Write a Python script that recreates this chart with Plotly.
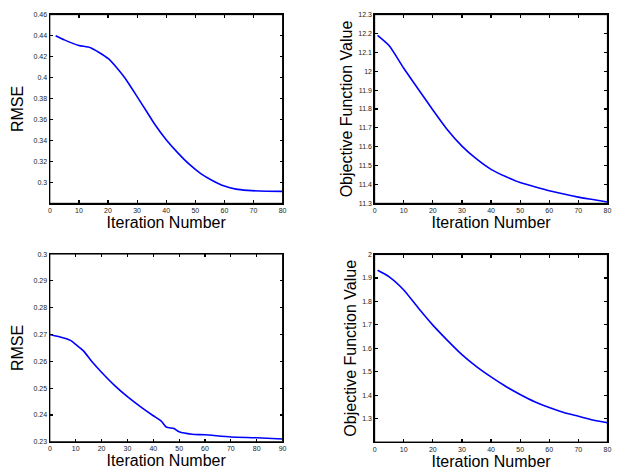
import plotly.graph_objects as go

# Top-left: RMSE vs iteration
rmse1_x = [2, 5, 10, 14, 20, 23, 26, 30, 33, 36, 40, 44, 48, 52, 56, 60, 64, 68, 72, 80]
rmse1_y = [0.440, 0.436, 0.4307, 0.4285, 0.4183, 0.4095, 0.399, 0.382, 0.369, 0.356,
           0.341, 0.3285, 0.3175, 0.3085, 0.302, 0.2969, 0.294, 0.2928, 0.2922, 0.2919]

# Top-right: objective function value
obj1_x = [1, 5, 10, 15, 20, 25, 30, 35, 40, 45, 50, 55, 60, 65, 70, 75, 80]
obj1_y = [12.19, 12.135, 12.016, 11.905, 11.795, 11.69, 11.603, 11.535, 11.48, 11.442,
          11.41, 11.388, 11.367, 11.349, 11.333, 11.32, 11.307]

# Bottom-left: RMSE
rmse2_x = [0, 5, 8, 10, 13, 16, 20, 25, 30, 35, 40, 43, 45, 48, 50, 55, 60, 70, 80, 90]
rmse2_y = [0.270, 0.2688, 0.2678, 0.2663, 0.2639, 0.2602, 0.2559, 0.251, 0.2468, 0.2431,
           0.2397, 0.2378, 0.2355, 0.2349, 0.2337, 0.2328, 0.2326, 0.2318, 0.2315, 0.231]

# Bottom-right: objective function value
obj2_x = [1, 5, 10, 15, 20, 25, 30, 35, 40, 45, 50, 55, 60, 65, 70, 75, 80]
obj2_y = [1.933, 1.905, 1.849, 1.772, 1.699, 1.634, 1.573, 1.522, 1.478, 1.438,
          1.403, 1.372, 1.347, 1.326, 1.31, 1.294, 1.282]

W, H = 621, 475
FONT = "Liberation Sans, Arial, Helvetica, sans-serif"

fig = go.Figure()
series = [
    (rmse1_x, rmse1_y, "x", "y"),
    (obj1_x, obj1_y, "x2", "y2"),
    (rmse2_x, rmse2_y, "x3", "y3"),
    (obj2_x, obj2_y, "x4", "y4"),
]
for xs, ys, xa, ya in series:
    fig.add_trace(go.Scatter(x=xs, y=ys, mode="lines", xaxis=xa, yaxis=ya,
                             line=dict(color="#0000ff", width=1.6, shape="spline", smoothing=0.6),
                             showlegend=False, hoverinfo="x+y"))
    fig.add_shape(type="rect", xref=xa + " domain", yref=ya + " domain",
                  x0=0, x1=1, y0=0, y1=1, line=dict(color="black", width=1),
                  fillcolor="rgba(0,0,0,0)", layer="above")

def px_x(a, b):
    return [a / W, b / W]

def px_y(top, bottom):
    return [1 - bottom / H, 1 - top / H]

common = dict(showline=True, linecolor="#000000", linewidth=1.3, mirror="ticks",
              ticks="inside", ticklen=3, tickcolor="#000000", tickwidth=1.2,
              showgrid=False, zeroline=False,
              tickfont=dict(family=FONT, size=7, color="#222"))
xtitle = dict(text="Iteration Number", font=dict(family=FONT, size=16, color="black"), standoff=2)

def ytitle(t, so):
    return dict(text=t, font=dict(family=FONT, size=16, color="black"), standoff=so)

def ticks(start, stop, step, nd):
    out = []
    v = start
    while v <= stop + 1e-9:
        out.append(round(v, nd))
        v += step
    return out

t1 = ticks(0.30, 0.46, 0.02, 2)
t2 = ticks(11.3, 12.3, 0.1, 1)
t3 = ticks(0.23, 0.30, 0.01, 2)
t4 = ticks(1.3, 2.0, 0.1, 1)

def lbl(vals, nd):
    out = []
    for v in vals:
        s = f"{v:.{nd}f}".rstrip("0").rstrip(".")
        out.append(s)
    return out

fig.update_layout(
    width=W, height=H, margin=dict(l=0, r=0, t=0, b=0),
    paper_bgcolor="white", plot_bgcolor="white",
    font=dict(family=FONT),
    xaxis=dict(domain=px_x(48.3, 283.3), range=[0, 80], tickvals=list(range(0, 81, 10)),
               anchor="y", title=xtitle, **common),
    yaxis=dict(domain=px_y(10.8, 202.3), range=[0.2805, 0.46], tickvals=t1, ticktext=lbl(t1, 2),
               anchor="x", title=ytitle("RMSE", 6), **common),
    xaxis2=dict(domain=px_x(376.3, 611.3), range=[0, 80], tickvals=list(range(0, 81, 10)),
                anchor="y2", title=xtitle, **common),
    yaxis2=dict(domain=px_y(10.8, 202.3), range=[11.3, 12.3], tickvals=t2, ticktext=lbl(t2, 1),
                anchor="x2", title=ytitle("Objective Function Value", 1), **common),
    xaxis3=dict(domain=px_x(48.3, 283.3), range=[0, 90], tickvals=list(range(0, 91, 10)),
                anchor="y3", title=xtitle, **common),
    yaxis3=dict(domain=px_y(253.8, 444.3), range=[0.23, 0.30], tickvals=t3, ticktext=lbl(t3, 2),
                anchor="x3", title=ytitle("RMSE", 6), **common),
    xaxis4=dict(domain=px_x(376.3, 611.3), range=[0, 80], tickvals=list(range(0, 81, 10)),
                anchor="y4", title=xtitle, **common),
    yaxis4=dict(domain=px_y(254.3, 444.6), range=[1.2, 2.0], tickvals=t4, ticktext=lbl(t4, 1),
                anchor="x4", title=ytitle("Objective Function Value", 1), **common),
)

fig.write_html("out.html", config={"displayModeBar": False, "staticPlot": True},
               post_script="document.body.style.margin='0';")
